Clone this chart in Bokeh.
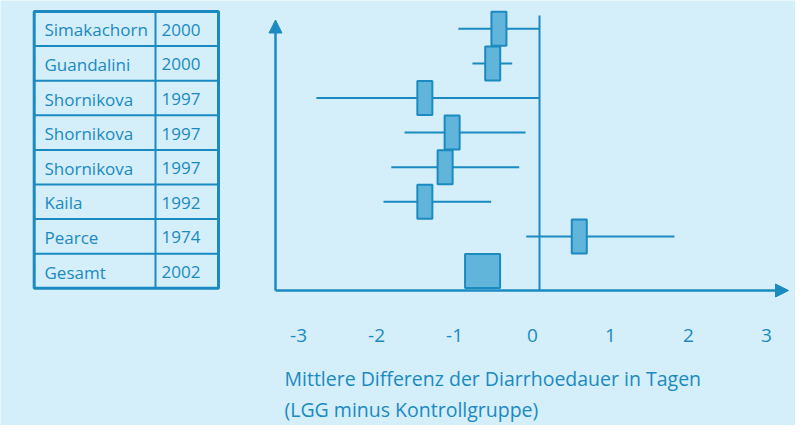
from bokeh.plotting import figure
from bokeh.models import Range1d, Arrow, NormalHead
from bokeh.core.properties import value
from bokeh.embed import file_html
from bokeh.resources import INLINE

# ---- data -------------------------------------------------------------
studies = ["Simakachorn", "Guandalini", "Shornikova", "Shornikova",
           "Shornikova", "Kaila", "Pearce", "Gesamt"]
years = ["2000", "2000", "1997", "1997", "1997", "1992", "1974", "2002"]
mean_diff = [-0.52, -0.60, -1.47, -1.12, -1.21, -1.47, 0.51, -0.73]
ci_low = [-1.04, -0.86, -2.86, -1.73, -1.90, -2.00, -0.17]
ci_high = [0.00, -0.35, 0.00, -0.18, -0.26, -0.62, 1.73]
ticks = [-3, -2, -1, 0, 1, 2, 3]
tick_labels = ["-3", "-2", "-1", "0", "1", "2", "3"]
x_title = ["Mittlere Differenz der Diarrhoedauer in Tagen",
           "(LGG minus Kontrollgruppe)"]

# ---- layout / style ---------------------------------------------------
W, H = 795, 425
BG = "#d4eefa"
INK = "#1a8ac0"
FILL = "#62b5da"
FONT = value("Open Sans")

ZERO_PX = 539.0   # pixel of x = 0 inside the figure
UNIT = 78.0       # pixels per day
ROW0 = 28.3       # pixel centre of first row
ROW_H = 34.6      # row height

p = figure(width=W, height=H, x_range=Range1d(0, W), y_range=Range1d(H, 0),
           output_backend="svg", toolbar_location=None,
           x_axis_location=None, y_axis_location=None, min_border=0,
           background_fill_color=BG, border_fill_color=BG,
           outline_line_color=None)
p.xgrid.grid_line_color = None
p.ygrid.grid_line_color = None
p.extra_x_ranges = {"diff": Range1d(-ZERO_PX / UNIT, (W - ZERO_PX) / UNIT)}
p.extra_y_ranges = {"row": Range1d((H - ROW0) / ROW_H, -ROW0 / ROW_H)}

n = len(studies)
rows = list(range(n))

# ---- table ------------------------------------------------------------
TL, TR, COL = 33.7, 218.0, 155.0
p.segment(x0=TL, x1=TR, y0=[k - 0.5 for k in range(1, n)],
          y1=[k - 0.5 for k in range(1, n)], y_range_name="row",
          line_color=INK, line_width=2)
p.segment(x0=COL, x1=COL, y0=-0.5, y1=n - 0.5, y_range_name="row",
          line_color=INK, line_width=2)
p.quad(left=TL, right=TR, top=-0.5, bottom=n - 0.5, y_range_name="row",
       fill_color=None, line_color=INK, line_width=3)
p.text(x=44.0, y=rows, text=studies, y_range_name="row",
       text_baseline="middle", text_align="left", text_font=FONT,
       text_font_size="17px", text_color=INK, y_offset=1)
p.text(x=161.0, y=rows, text=years, y_range_name="row",
       text_baseline="middle", text_align="left", text_font=FONT,
       text_font_size="17px", text_color=INK, y_offset=1)

# ---- forest plot ------------------------------------------------------
p.segment(x0=0, x1=0, y0=15, y1=290, x_range_name="diff",
          line_color=INK, line_width=2)
p.segment(x0=ci_low, x1=ci_high, y0=rows[:len(ci_low)], y1=rows[:len(ci_low)],
          x_range_name="diff", y_range_name="row",
          line_color=INK, line_width=2)
p.rect(x=mean_diff[:-1], y=rows[:-1], width=15, height=34,
       width_units="screen", height_units="screen",
       x_range_name="diff", y_range_name="row",
       fill_color=FILL, line_color=INK, line_width=2)
p.rect(x=mean_diff[-1:], y=rows[-1:], width=35, height=34,
       width_units="screen", height_units="screen",
       x_range_name="diff", y_range_name="row",
       fill_color=FILL, line_color=INK, line_width=2)

# axes with arrow heads
p.add_layout(Arrow(end=NormalHead(size=13, fill_color=INK, line_color=INK),
                   x_start=275, y_start=290, x_end=275, y_end=19.5,
                   line_color=INK, line_width=2.5))
p.add_layout(Arrow(end=NormalHead(size=13, fill_color=INK, line_color=INK),
                   x_start=275, y_start=290, x_end=788, y_end=290,
                   line_color=INK, line_width=2.5))

p.text(x=ticks, y=335, text=tick_labels, x_range_name="diff", x_offset=-7,
       text_align="center", text_baseline="middle", text_font=FONT,
       text_font_size="19px", text_color=INK)
p.text(x=284, y=[378, 409], text=x_title, text_align="left",
       text_baseline="alphabetic", text_font=FONT, text_font_size="19.5px",
       text_color=INK)

open("out.html", "w").write(file_html(p, INLINE))
